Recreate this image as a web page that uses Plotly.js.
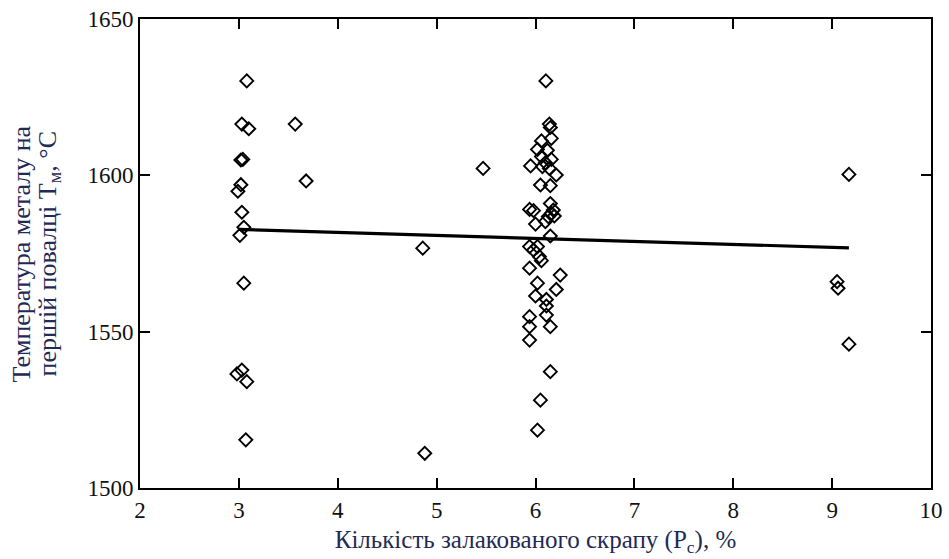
<!DOCTYPE html>
<html>
<head>
<meta charset="utf-8">
<script src="https://cdn.plot.ly/plotly-3.0.1.min.js"></script>
<style>html,body{margin:0;padding:0;background:#fff;}#chart{width:949px;height:559px;}</style>
</head>
<body>
<div id="chart"></div>
<script>
// Scatter data: scrap amount (%) vs metal temperature (°C)
const scrapX = [
  3.08, 3.03, 3.10, 3.02, 3.04, 3.02, 2.99, 3.03, 3.05, 3.01, 3.05, 3.03, 2.98, 3.08, 3.07,
  3.57, 3.68, 4.86, 4.88, 5.47,
  6.105, 6.14, 6.15, 6.16, 6.06, 6.02, 6.12, 6.06, 6.16, 5.95, 6.07, 6.10, 6.14, 6.21,
  6.05, 6.15, 6.15, 5.94, 5.98, 6.18, 6.16, 6.19, 6.13, 6.10, 6.00, 6.15, 5.94, 6.02,
  5.98, 6.04, 6.06, 5.94, 6.25, 6.02, 6.21, 6.00, 6.11, 6.11, 6.11, 5.94, 5.94, 6.15,
  5.94, 6.15, 6.05, 6.02,
  9.17, 9.05, 9.06, 9.17
];
const metalTemp = [
  1630.2, 1616.4, 1614.9, 1604.9, 1605.1, 1597.0, 1594.9, 1588.2, 1583.4, 1580.8, 1565.5, 1537.7, 1536.5, 1534.0, 1515.4,
  1616.4, 1598.2, 1576.7, 1511.1, 1602.2,
  1630.2, 1616.4, 1615.3, 1611.8, 1611.0, 1608.3, 1608.0, 1606.0, 1605.1, 1603.0, 1602.8, 1604.0, 1602.2, 1600.1,
  1596.9, 1596.7, 1591.0, 1589.1, 1588.7, 1588.9, 1587.8, 1587.0, 1586.8, 1585.2, 1584.4, 1580.6, 1577.2, 1577.2,
  1576.1, 1574.0, 1572.7, 1570.3, 1568.1, 1565.5, 1563.5, 1561.4, 1560.3, 1558.2, 1555.3, 1554.8, 1551.6, 1551.6,
  1547.3, 1537.2, 1528.1, 1518.5,
  1600.3, 1566.0, 1563.9, 1546.0
];
// Linear trend line end points
const trendX = [3.0, 9.17];
const trendY = [1582.7, 1576.8];

const xTicks = [2, 3, 4, 5, 6, 7, 8, 9, 10];
const yTicks = [1500, 1550, 1600, 1650];

const yTitleLines = ['Температура металу на', 'першій повалці Т<sub>м</sub>, °С'];
const xTitle = 'Кількість залакованого скрапу (Р<sub>с</sub>), %';

const titleColor = '#1f2a55';
const serif = 'Liberation Serif';

const data = [
  {
    x: scrapX, y: metalTemp, type: 'scatter', mode: 'markers',
    marker: {symbol: 'diamond-open', size: 10, color: '#000', line: {width: 1.9, color: '#000'}},
    hoverinfo: 'x+y', showlegend: false
  },
  {
    x: trendX, y: trendY, type: 'scatter', mode: 'lines',
    line: {color: '#000', width: 3.2}, showlegend: false, hoverinfo: 'skip'
  }
];

const plotL = 140, plotW = 791;
const layout = {
  width: 949, height: 559,
  paper_bgcolor: '#fff', plot_bgcolor: '#fff',
  margin: {l: plotL, r: 18, t: 19, b: 71},
  font: {family: serif, color: '#000'},
  showlegend: false,
  xaxis: {
    range: [2, 10], tickvals: xTicks, ticktext: xTicks.map(String),
    ticks: 'inside', ticklen: 10, tickwidth: 2, tickcolor: '#000',
    showline: true, linecolor: '#000', linewidth: 2, mirror: 'ticks',
    showgrid: false, zeroline: false,
    tickfont: {family: serif, size: 23, color: '#111'},
    title: {text: xTitle, font: {family: serif, size: 25, color: titleColor}, standoff: 9}
  },
  yaxis: {
    range: [1500, 1650], tickvals: yTicks, ticktext: yTicks.map(String),
    ticks: 'inside', ticklen: 10, tickwidth: 2, tickcolor: '#000',
    showline: true, linecolor: '#000', linewidth: 2, mirror: 'ticks',
    showgrid: false, zeroline: false,
    tickfont: {family: serif, size: 23, color: '#111'}
  },
  annotations: yTitleLines.map((t, i) => ({
    text: t, xref: 'paper', yref: 'paper',
    x: ((i === 0 ? 21 : 48) - plotL) / plotW, y: 0.5,
    xanchor: 'center', yanchor: 'middle', textangle: -90, showarrow: false,
    font: {family: serif, size: 26, color: titleColor}
  }))
};

Plotly.newPlot('chart', data, layout, {displayModeBar: false, staticPlot: true});
</script>
</body>
</html>
